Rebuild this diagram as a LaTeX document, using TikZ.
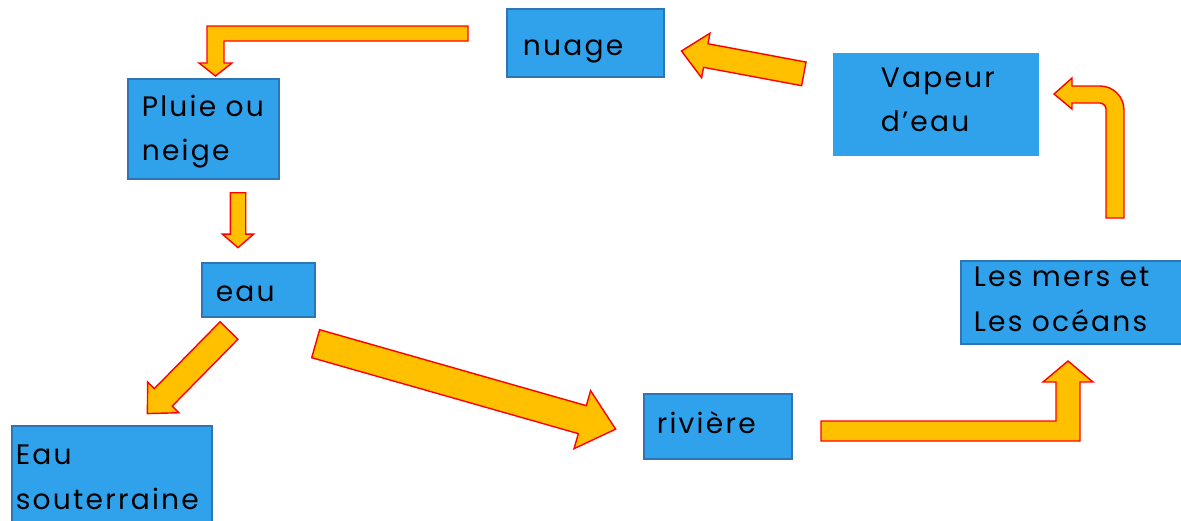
\documentclass[tikz,border=0pt]{standalone}
\usepackage{fontspec}
\setmainfont[LetterSpace=8,WordSpace=1.4]{Poppins}
\usetikzlibrary{shapes.arrows}
\definecolor{boxblue}{RGB}{47,162,235}
\definecolor{boxline}{RGB}{46,117,182}
\definecolor{jaune}{RGB}{255,192,0}
\definecolor{rouge}{RGB}{255,0,0}
\tikzset{%
etape/.style={draw=boxline,fill=boxblue,line width=0.9pt,rectangle,anchor=north west,align=left,font=\fontsize{16}{25.5}\selectfont},
fleche/.style={single arrow,draw=rouge,fill=jaune,line width=0.8pt,inner xsep=0pt,single arrow head indent=0pt,anchor=tail},
coude/.style={draw=rouge,fill=jaune,line width=0.8pt,line join=miter}
}
\begin{document}
\begin{tikzpicture}[x=0.02cm,y=-0.02cm]

    \clip (0,0) rectangle (1181,521);

    \node[etape,minimum width=3.14cm,minimum height=1.36cm,inner xsep=0.32cm,text width=2.5cm,text height=15pt,text depth=0pt] (nuage) at (506,8) {nuage};
    \node[etape,minimum width=3.02cm,minimum height=2cm,inner xsep=0.28cm,text width=2.46cm,text height=14.6pt,text depth=29pt] (pluie) at (127,78) {Pluie ou\\neige};
    \node[etape,minimum width=2.26cm,minimum height=1.08cm,inner xsep=0.28cm,text width=1.7cm,text height=13.4pt,text depth=0pt] (eau) at (201,262) {eau};
    \node[etape,minimum width=4cm,minimum height=2.14cm,inner xsep=0.08cm,text width=3.84cm,text height=11pt,text depth=27.7pt] (sout) at (11,425) {Eau\\souterraine};
    \node[etape,minimum width=2.96cm,minimum height=1.3cm,inner xsep=0.26cm,text width=2.44cm,text height=7.7pt,text depth=0pt] (riviere) at (643,393) {rivière};
    \node[etape,minimum width=4.44cm,minimum height=1.66cm,inner xsep=0.26cm,text width=3.92cm,text height=11pt,text depth=28.8pt] (mers) at (960,260) {Les mers et\\Les océans};
    \node[etape,draw=boxblue,minimum width=4.08cm,minimum height=2.02cm,inner xsep=0.94cm,text width=2.2cm,text height=11pt,text depth=30.5pt] (vapeur) at (833,53) {Vapeur\\d’eau};

    % straight arrows, placed by their tails
    \node[fleche,minimum height=2.49cm,inner ysep=0.226cm,single arrow head extend=0.213cm,single arrow tip angle=85,rotate=169.4] (fl2) at (804.5,74) {};
    \node[fleche,minimum height=1.1cm,inner ysep=0.14cm,single arrow head extend=0.16cm,single arrow tip angle=98,rotate=-90] (fl3) at (238,192) {};
    \node[fleche,minimum height=2.33cm,inner ysep=0.236cm,single arrow head extend=0.188cm,single arrow tip angle=88,rotate=225.5] (fl4) at (229.5,330) {};
    \node[fleche,minimum height=6.24cm,inner ysep=0.277cm,single arrow head extend=0.312cm,single arrow tip angle=82,rotate=-15.9] (fl5) at (315,343.5) {};

    % bent arrows
    \draw[coude] (468,26) -- (207,26) -- (207,63) -- (199,63) -- (215.5,76)
                 -- (232,63) -- (224,63) -- (224,41) -- (468,41) -- cycle;
    \draw[coude] (821,421) -- (1056,421) -- (1056,382) -- (1043,382) -- (1068,361)
                 -- (1093,382) -- (1080,382) -- (1080,441) -- (821,441) -- cycle;
    \draw[coude] (1106,218) -- (1106,109) .. controls (1106,105.7) and (1102.7,103) .. (1100,103)
                 -- (1072,103) -- (1072,109) -- (1054,94) -- (1072,78) -- (1072,86) -- (1100,86)
                 .. controls (1113.25,86) and (1124,96.75) .. (1124,110) -- (1124,218) -- cycle;

  \end{tikzpicture}
\end{document}
